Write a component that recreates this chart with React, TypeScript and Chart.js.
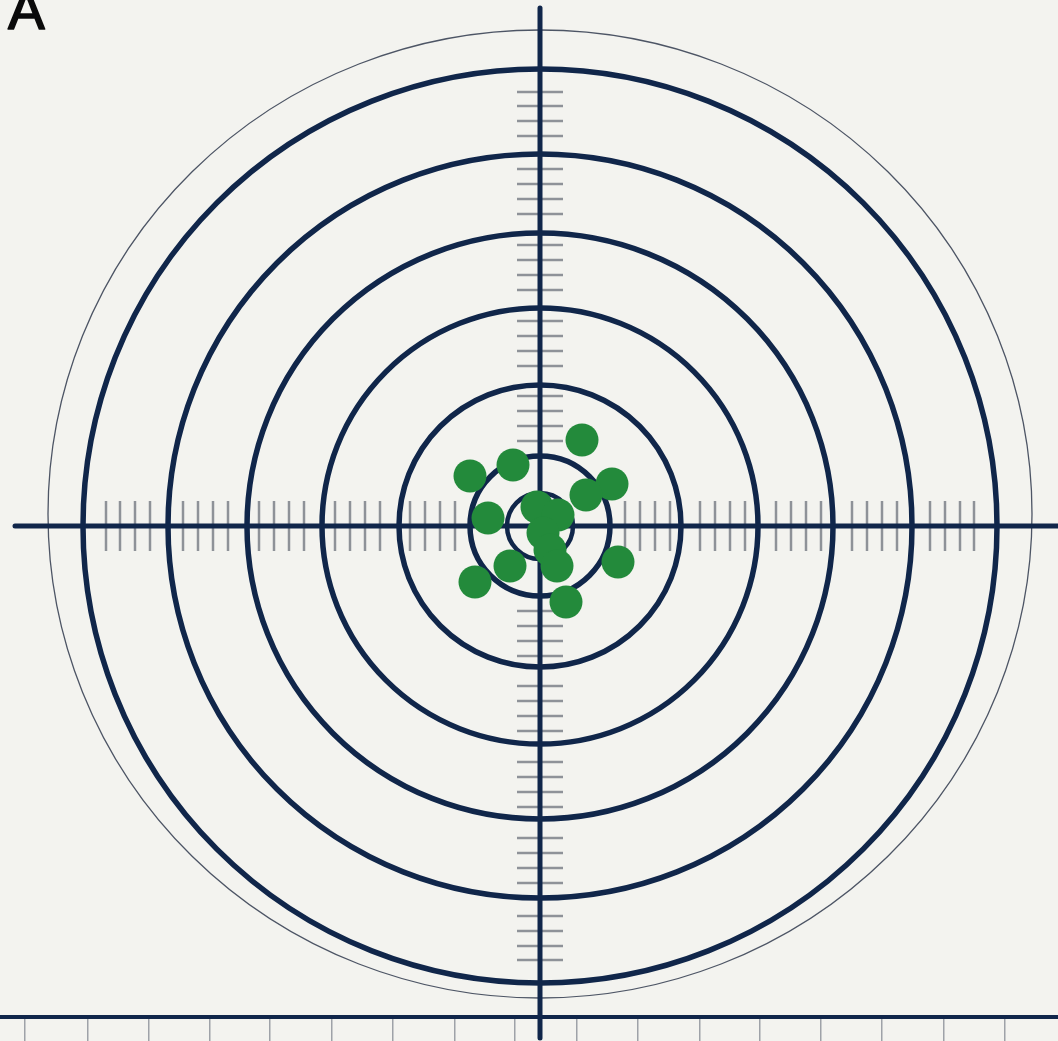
import { useEffect, useRef } from "react";
import { Chart, registerables } from "chart.js";

Chart.register(...registerables);

// Shot group (chart units, centre of target = 0,0)
const shotX = [42, -70, -27, 72, 46, -52, -3, 18, 3, 10, 17, 78, -30, -65, 26];
const shotY = [86, 50, 61, 42, 31, 8, 19, 11, -7, -24, -40, -36, -40, -56, -76];

// Target rings (radius, chart units)
const ringRadii = [33, 70, 141, 218, 293, 372, 457];
// Thin outer guide ring: [radius x, radius y], centre y offset
const guideRadii = [492, 484];
const guideCenterY = 12;

// Reticle tick offsets along both crosshair arms (each side)
const crossTicks = [85, 100, 115, 130, 160, 175, 190, 205, 236, 251, 266, 281, 312, 327, 342, 357, 390, 405, 420, 434];

// Crosshair extents
const hLine = [-525, 518];
const vLine = [-512, 518];

// Bottom ruler
const rulerY = -491;
const bottomTicks = [-515, -452, -391, -330, -270, -208, -147, -85, -25, 37, 98, 160, 220, 281, 342, 404, 465];

const xRange = [-540, 518];
const yRange = [-515, 526];

const panelLabel = "A";

const BG = "#f3f3ef";
const NAVY = "#10264a";
const TICK = "#8e9298";
const GREEN = "#238a3b";

const targetPlugin = {
  id: "target",
  beforeDraw(chart: any) {
    const { ctx, width, height } = chart;
    ctx.save();
    ctx.fillStyle = BG;
    ctx.fillRect(0, 0, width, height);
    ctx.restore();
  },
  beforeDatasetsDraw(chart: any) {
    const { ctx } = chart;
    const x = chart.scales.x;
    const y = chart.scales.y;
    const cx = x.getPixelForValue(0);
    const cy = y.getPixelForValue(0);
    const dx = (v: number) => x.getPixelForValue(v) - cx;
    const dy = (v: number) => cy - y.getPixelForValue(v);
    ctx.save();

    // reticle ticks
    ctx.strokeStyle = TICK;
    ctx.lineWidth = 2.5;
    ctx.lineCap = "butt";
    for (const t of crossTicks) {
      for (const s of [-1, 1]) {
        const xx = x.getPixelForValue(s * t);
        ctx.beginPath();
        ctx.moveTo(xx, cy - 25);
        ctx.lineTo(xx, cy + 25);
        ctx.stroke();
        const yy = y.getPixelForValue(s * t);
        ctx.beginPath();
        ctx.moveTo(cx - 23, yy);
        ctx.lineTo(cx + 23, yy);
        ctx.stroke();
      }
    }

    // thin guide ring
    ctx.strokeStyle = "#4d5565";
    ctx.lineWidth = 1.3;
    ctx.beginPath();
    ctx.ellipse(cx, y.getPixelForValue(guideCenterY), dx(guideRadii[0]), dy(guideRadii[1]), 0, 0, Math.PI * 2);
    ctx.stroke();

    // rings
    ctx.strokeStyle = NAVY;
    ringRadii.forEach((r, i) => {
      ctx.lineWidth = i === 0 ? 4.5 : 5.5;
      ctx.beginPath();
      ctx.arc(cx, cy, dx(r), 0, Math.PI * 2);
      ctx.stroke();
    });

    // crosshair
    ctx.lineWidth = 5;
    ctx.lineCap = "round";
    ctx.beginPath();
    ctx.moveTo(x.getPixelForValue(hLine[0]), cy);
    ctx.lineTo(x.getPixelForValue(hLine[1]), cy);
    ctx.stroke();
    ctx.beginPath();
    ctx.moveTo(cx, y.getPixelForValue(vLine[1]));
    ctx.lineTo(cx, y.getPixelForValue(vLine[0]));
    ctx.stroke();
    ctx.restore();
  },
  afterDraw(chart: any) {
    const { ctx } = chart;
    ctx.save();
    ctx.fillStyle = "#0a0a0a";
    ctx.strokeStyle = "#0a0a0a";
    ctx.lineWidth = 1.6;
    ctx.lineJoin = "round";
    ctx.font = '55px "Liberation Sans", Arial, sans-serif';
    ctx.textBaseline = "alphabetic";
    ctx.textAlign = "left";
    ctx.fillText(panelLabel, 8, 29);
    ctx.strokeText(panelLabel, 8, 29);
    ctx.restore();
  },
};

export default function App() {
  const ref = useRef<HTMLCanvasElement | null>(null);

  useEffect(() => {
    document.body.style.margin = "0";
    document.body.style.background = BG;
    const canvas = ref.current;
    if (!canvas) return;
    const chart = new Chart(canvas, {
      type: "scatter",
      data: {
        datasets: [
          {
            label: "Shots",
            data: shotX.map((v, i) => ({ x: v, y: shotY[i] })),
            pointRadius: 16.5,
            pointHoverRadius: 16.5,
            backgroundColor: GREEN,
            borderWidth: 0,
            clip: false as any,
          },
        ],
      },
      options: {
        animation: false,
        responsive: true,
        maintainAspectRatio: false,
        events: [],
        layout: { padding: 0, autoPadding: false },
        plugins: {
          legend: { display: false },
          tooltip: { enabled: false },
        },
        scales: {
          x: {
            type: "linear",
            min: xRange[0],
            max: xRange[1],
            position: { y: rulerY } as any,
            afterFit: (s: any) => {
              s.height = 0;
              s.paddingLeft = 0;
              s.paddingRight = 0;
            },
            afterBuildTicks: (s: any) => {
              s.ticks = bottomTicks.map((v) => ({ value: v }));
            },
            ticks: { display: false },
            grid: {
              drawOnChartArea: false,
              drawTicks: true,
              tickLength: 24,
              tickWidth: 1.5,
              tickColor: "#9ea2a8",
              lineWidth: 1.5,
            },
            border: { display: true, color: NAVY, width: 4 },
          },
          y: {
            type: "linear",
            min: yRange[0],
            max: yRange[1],
            display: false,
          },
        },
      },
      plugins: [targetPlugin],
    });
    return () => chart.destroy();
  }, []);

  return (
    <div style={{ position: "relative", width: "1058px", height: "1041px" }}>
      <canvas ref={ref} style={{ display: "block" }} />
    </div>
  );
}
